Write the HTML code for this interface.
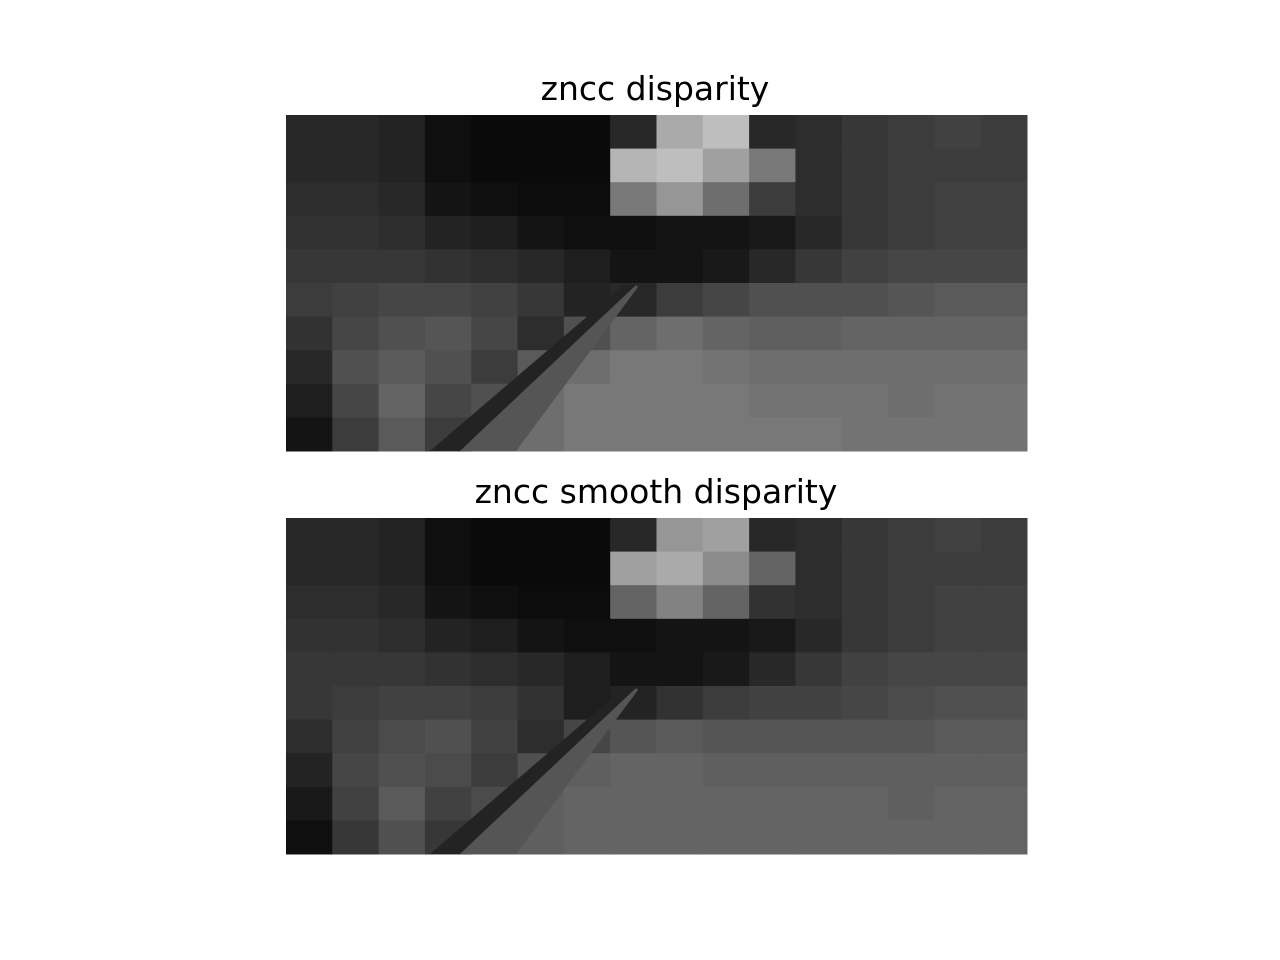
<!DOCTYPE html>
<html><head><meta charset="utf-8"><style>
html,body{margin:0;padding:0;background:#fff;width:1280px;height:960px;overflow:hidden}
svg{display:block}
text{font-family:"DejaVu Sans","Liberation Sans",sans-serif;font-size:33px;fill:#000}
</style></head><body>
<svg id="fig" width="1280" height="960" viewBox="0 0 1280 960">
<text x="655" y="100" text-anchor="middle">zncc disparity</text>
<text x="656" y="503" text-anchor="middle">zncc smooth disparity</text>
<g id="top"></g>
<g id="bot"></g>
</svg>
<script>
const topGrid = [
[40,40,35,15,10,10,10,40,170,190,40,45,55,60,65,60],
[40,40,35,15,10,10,10,180,190,160,120,45,55,60,60,60],
[45,45,40,20,15,12,12,120,150,110,60,45,55,60,65,65],
[50,50,45,35,30,20,15,15,20,20,25,40,55,60,65,65],
[55,55,55,50,45,40,30,20,20,25,40,55,65,70,70,70],
[60,65,70,70,65,55,35,40,60,70,80,80,80,85,90,90],
[50,70,80,85,70,45,80,100,110,100,95,95,100,100,100,100],
[40,80,90,80,60,90,110,120,120,115,110,110,110,110,110,110],
[30,70,100,70,80,110,120,120,120,120,115,115,115,110,115,115],
[20,60,90,60,100,110,120,120,120,120,120,120,115,115,115,115]
];
const botGrid = [
[40,40,35,15,10,10,10,40,150,160,40,45,55,60,65,60],
[40,40,35,15,10,10,10,160,170,140,100,45,55,60,60,60],
[45,45,40,20,15,12,12,100,130,100,50,45,55,60,65,65],
[50,50,45,35,30,20,15,15,20,20,25,40,55,60,65,65],
[55,55,55,50,45,40,30,20,20,25,40,55,65,70,70,70],
[55,60,65,65,60,50,30,35,50,60,65,65,70,75,80,80],
[45,65,75,80,65,45,70,85,90,85,85,85,85,85,90,90],
[35,70,80,75,60,80,95,100,100,95,95,95,95,95,95,95],
[25,65,90,65,75,95,100,100,100,100,100,100,100,95,100,100],
[15,55,80,55,90,95,100,100,100,100,100,100,100,100,100,100]
];
const NS="http://www.w3.org/2000/svg";
function draw(gid, grid, x0, y0, w, h){
  const g=document.getElementById(gid);
  const rows=grid.length, cols=grid[0].length;
  const cw=w/cols, ch=h/rows;
  grid.forEach((row,r)=>row.forEach((v,c)=>{
    const rc=document.createElementNS(NS,"rect");
    
    
    rc.setAttribute("x",x0+c*cw);rc.setAttribute("y",y0+r*ch);
    rc.setAttribute("width",cw+0.5);rc.setAttribute("height",ch+0.5);
    rc.setAttribute("fill",`rgb(${v},${v},${v})`);
    g.appendChild(rc);
  }));
  const p=document.createElementNS(NS,"polygon");
  
  
  p.setAttribute("points",`${x0+144},${y0+h} ${x0+174},${y0+h} ${x0+350},${y0+170} ${x0+338},${y0+170}`);
  p.setAttribute("fill","rgb(35,35,35)");
  g.appendChild(p);
  const p2=document.createElementNS(NS,"polygon");
  
  
  p2.setAttribute("points",`${x0+174},${y0+h} ${x0+230},${y0+h} ${x0+352},${y0+172} ${x0+350},${y0+170}`);
  p2.setAttribute("fill","rgb(85,85,85)");
  g.appendChild(p2);
}
draw("top", topGrid, 286, 115, 741, 336);
draw("bot", botGrid, 286, 518, 741, 336);
</script>
</body></html>
